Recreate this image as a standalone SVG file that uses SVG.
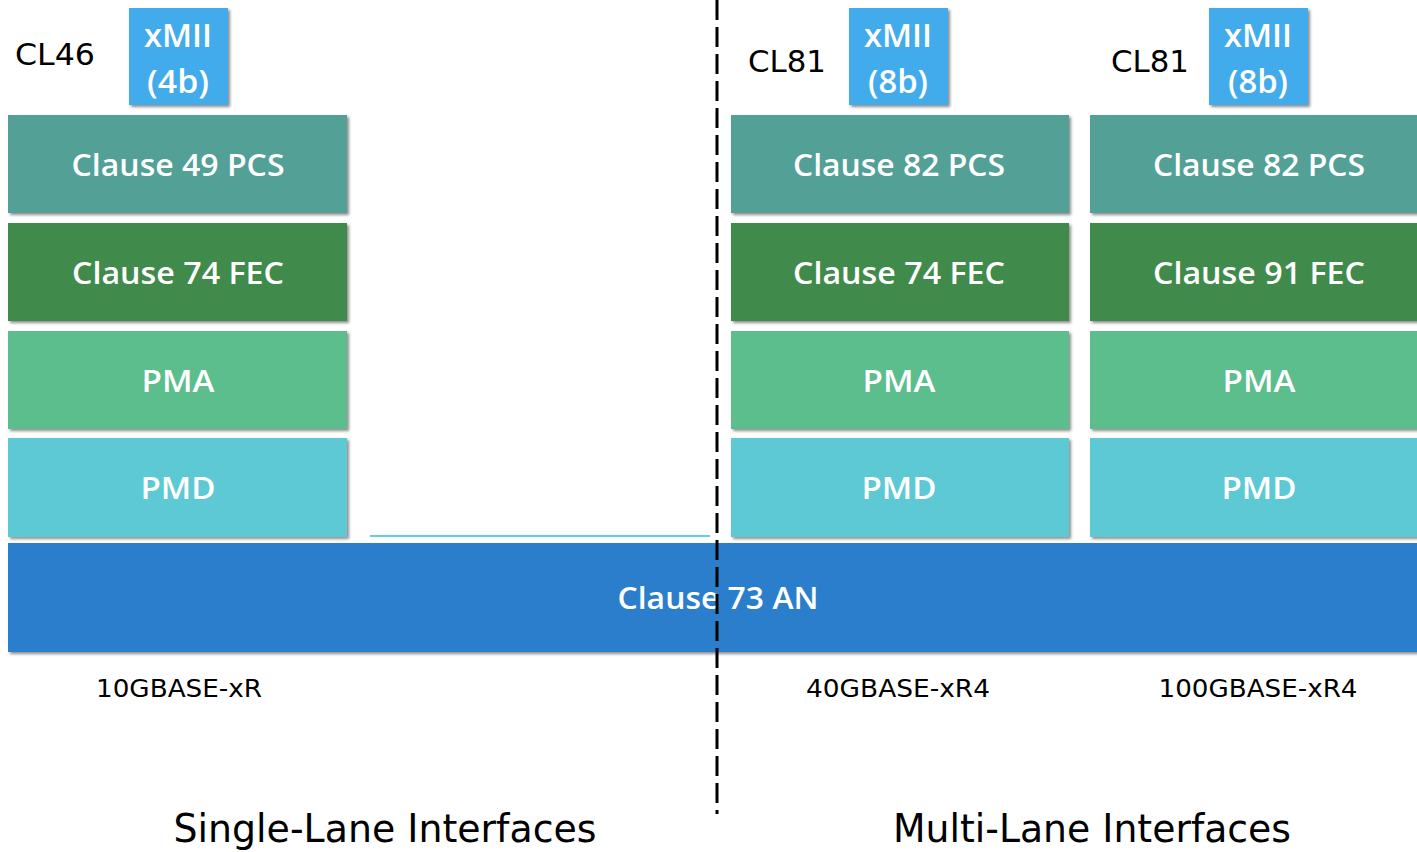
<svg xmlns="http://www.w3.org/2000/svg" width="1417" height="852" viewBox="0 0 1417 852">
<defs>
<filter id="sh" x="-5%" y="-5%" width="115%" height="120%">
<feDropShadow dx="2" dy="2" stdDeviation="1.5" flood-color="#000" flood-opacity="0.45"/>
</filter>
<style>
.bt{font-family:"Open Sans",Lato,sans-serif;font-weight:600;fill:#fff;font-size:30px;text-anchor:middle}
.xm{font-family:"Open Sans",Lato,sans-serif;font-weight:600;fill:#fff;font-size:32px;text-anchor:middle}
.lb{font-family:"DejaVu Sans",Verdana,sans-serif;fill:#000;font-size:30px}
.sl{font-family:"DejaVu Sans",Verdana,sans-serif;fill:#000;font-size:24px;text-anchor:middle}
.bl{font-family:"DejaVu Sans",Verdana,sans-serif;fill:#000;font-size:39px;text-anchor:middle}
.xmii{fill:#43abeb}
.pcs{fill:#52a097}
.fec{fill:#3f8b4b}
.pma{fill:#5bbd8d}
.pmd{fill:#5dc9d4}
.an{fill:#2a7ecb}
</style>
</defs>
<rect width="1417" height="852" fill="#fff"/>

<g id="an">
<rect class="an" x="8" y="543" width="1420" height="109" filter="url(#sh)"/>
<text class="bt" x="718" y="609" textLength="201" lengthAdjust="spacingAndGlyphs">Clause 73 AN</text>
</g>

<g id="col10g">
<g id="xmii-4b">
<rect class="xmii" x="129" y="8" width="99" height="97" filter="url(#sh)"/>
<text class="xm" x="178" y="47" textLength="68" lengthAdjust="spacingAndGlyphs">xMII</text>
<text class="xm" x="178" y="93" textLength="62" lengthAdjust="spacingAndGlyphs">(4b)</text>
</g>
<g id="pcs49"><rect class="pcs" x="8" y="115" width="339" height="98" filter="url(#sh)"/><text class="bt" x="178" y="176" textLength="213" lengthAdjust="spacingAndGlyphs">Clause 49 PCS</text></g>
<g id="fec74a"><rect class="fec" x="8" y="223" width="339" height="98" filter="url(#sh)"/><text class="bt" x="178" y="284" textLength="212" lengthAdjust="spacingAndGlyphs">Clause 74 FEC</text></g>
<g id="pma1"><rect class="pma" x="8" y="331" width="339" height="98" filter="url(#sh)"/><text class="bt" x="178" y="392" textLength="73" lengthAdjust="spacingAndGlyphs">PMA</text></g>
<g id="pmd1"><rect class="pmd" x="8" y="438" width="339" height="99" filter="url(#sh)"/><text class="bt" x="178" y="499" textLength="75" lengthAdjust="spacingAndGlyphs">PMD</text></g>
</g>

<g id="col40g">
<g id="xmii-8b-a">
<rect class="xmii" x="849" y="8" width="99" height="97" filter="url(#sh)"/>
<text class="xm" x="898" y="47" textLength="68" lengthAdjust="spacingAndGlyphs">xMII</text>
<text class="xm" x="898" y="93" textLength="60" lengthAdjust="spacingAndGlyphs">(8b)</text>
</g>
<g id="pcs82a"><rect class="pcs" x="731" y="115" width="338" height="98" filter="url(#sh)"/><text class="bt" x="899" y="176" textLength="212" lengthAdjust="spacingAndGlyphs">Clause 82 PCS</text></g>
<g id="fec74b"><rect class="fec" x="731" y="223" width="338" height="98" filter="url(#sh)"/><text class="bt" x="899" y="284" textLength="212" lengthAdjust="spacingAndGlyphs">Clause 74 FEC</text></g>
<g id="pma2"><rect class="pma" x="731" y="331" width="338" height="98" filter="url(#sh)"/><text class="bt" x="899" y="392" textLength="73" lengthAdjust="spacingAndGlyphs">PMA</text></g>
<g id="pmd2"><rect class="pmd" x="731" y="438" width="338" height="99" filter="url(#sh)"/><text class="bt" x="899" y="499" textLength="75" lengthAdjust="spacingAndGlyphs">PMD</text></g>
</g>

<g id="col100g">
<g id="xmii-8b-b">
<rect class="xmii" x="1209" y="8" width="99" height="97" filter="url(#sh)"/>
<text class="xm" x="1258" y="47" textLength="68" lengthAdjust="spacingAndGlyphs">xMII</text>
<text class="xm" x="1258" y="93" textLength="60" lengthAdjust="spacingAndGlyphs">(8b)</text>
</g>
<g id="pcs82b"><rect class="pcs" x="1090" y="115" width="340" height="98" filter="url(#sh)"/><text class="bt" x="1259" y="176" textLength="212" lengthAdjust="spacingAndGlyphs">Clause 82 PCS</text></g>
<g id="fec91"><rect class="fec" x="1090" y="223" width="340" height="98" filter="url(#sh)"/><text class="bt" x="1259" y="284" textLength="212" lengthAdjust="spacingAndGlyphs">Clause 91 FEC</text></g>
<g id="pma3"><rect class="pma" x="1090" y="331" width="340" height="98" filter="url(#sh)"/><text class="bt" x="1259" y="392" textLength="73" lengthAdjust="spacingAndGlyphs">PMA</text></g>
<g id="pmd3"><rect class="pmd" x="1090" y="438" width="340" height="99" filter="url(#sh)"/><text class="bt" x="1259" y="499" textLength="75" lengthAdjust="spacingAndGlyphs">PMD</text></g>
</g>

<line x1="370" y1="536" x2="710" y2="536" stroke="#5fd3da" stroke-width="2"/>

<g id="labels">
<text class="lb" x="15" y="65" textLength="80" lengthAdjust="spacingAndGlyphs">CL46</text>
<text class="lb" x="748" y="72" textLength="78" lengthAdjust="spacingAndGlyphs">CL81</text>
<text class="lb" x="1111" y="72" textLength="78" lengthAdjust="spacingAndGlyphs">CL81</text>
<text class="sl" x="179" y="697" textLength="166" lengthAdjust="spacingAndGlyphs">10GBASE-xR</text>
<text class="sl" x="898" y="697" textLength="184" lengthAdjust="spacingAndGlyphs">40GBASE-xR4</text>
<text class="sl" x="1258" y="697" textLength="199" lengthAdjust="spacingAndGlyphs">100GBASE-xR4</text>
<text class="bl" x="385" y="842" textLength="423" lengthAdjust="spacingAndGlyphs">Single-Lane Interfaces</text>
<text class="bl" x="1092" y="842" textLength="398" lengthAdjust="spacingAndGlyphs">Multi-Lane Interfaces</text>
</g>

<g id="connectors">
<line x1="717" y1="0" x2="717" y2="814" stroke="#000" stroke-width="3" stroke-dasharray="20,7"/>
</g>
</svg>
